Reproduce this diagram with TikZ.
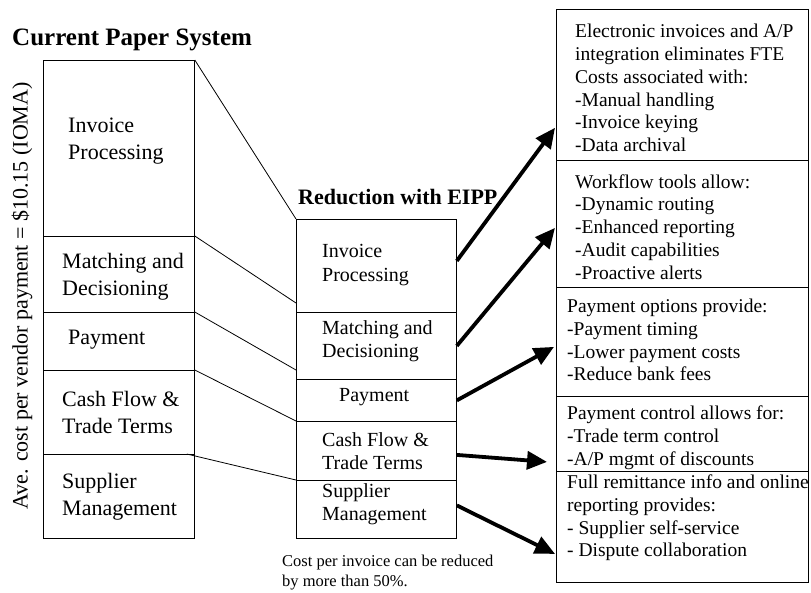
\documentclass[tikz,border=0pt]{standalone}
\usepackage{fontspec}
\setmainfont{Liberation Serif}
\usetikzlibrary{arrows.meta,positioning}
\tikzset{
  cellbox/.style = {draw=black, line width=0.8pt, rectangle, anchor=north west,
    inner sep=0pt},% empty cell of a column
  leftlbl/.style = {anchor=west, align=left, inner sep=0pt,
    font=\fontsize{22pt}{27pt}\selectfont},% text of the paper column
  midlbl/.style = {anchor=west, align=left, inner sep=0pt,
    font=\fontsize{20pt}{23.5pt}\selectfont},% text of the EIPP column
  notelbl/.style = {anchor=west, align=left, inner sep=0pt,
    font=\fontsize{19.5pt}{22.8pt}\selectfont},% text of the benefit boxes
  heading/.style = {anchor=west, inner sep=0pt, font=\bfseries},
  link/.style = {line width=0.8pt},
  bigarrow/.style = {line width=3.8pt, -{Triangle[length=20pt,width=18pt]}}
}
\begin{document}
\begin{tikzpicture}[x=1pt,y=-1pt]
\useasboundingbox (0,0) rectangle (811,592);
% current paper system
\node [cellbox, minimum width=151pt, minimum height=176pt] (lp1) at (43,60) {};
\node [cellbox, minimum width=151pt, minimum height=76pt] (lp2) at (43,236) {};
\node [cellbox, minimum width=151pt, minimum height=58pt] (lp3) at (43,312) {};
\node [cellbox, minimum width=151pt, minimum height=84pt] (lp4) at (43,370) {};
\node [cellbox, minimum width=151pt, minimum height=84pt] (lp5) at (43,454) {};
\node [leftlbl] (lt1) at (68,141) {Invoice\\Processing};
\node [leftlbl] (lt2) at (62,277) {Matching and\\Decisioning};
\node [leftlbl] (lt3) at (68,340) {Payment};
\node [leftlbl] (lt4) at (62,412) {Cash Flow \&\\Trade Terms};
\node [leftlbl] (lt5) at (62,497) {Supplier\\Management};
\node [heading, font=\bfseries\fontsize{25pt}{30pt}\selectfont] (lhead) at (12,40)
  {Current Paper System};
\node [rotate=90, inner sep=0pt, font=\fontsize{22pt}{26pt}\selectfont] (yax)
  at (22,296) {Ave. cost per vendor payment = \$10.15 (IOMA)};
% reduction with EIPP
\node [cellbox, minimum width=160pt, minimum height=93pt] (mp1) at (296,219) {};
\node [cellbox, minimum width=160pt, minimum height=67pt] (mp2) at (296,312) {};
\node [cellbox, minimum width=160pt, minimum height=42pt] (mp3) at (296,379) {};
\node [cellbox, minimum width=160pt, minimum height=59pt] (mp4) at (296,421) {};
\node [cellbox, minimum width=160pt, minimum height=58pt] (mp5) at (296,480) {};
\node [midlbl] (mt1) at (322,265) {Invoice\\Processing};
\node [midlbl] (mt2) at (322,341) {Matching and\\Decisioning};
\node [midlbl] (mt3) at (339,397) {Payment};
\node [midlbl] (mt4) at (322,451) {Cash Flow \&\\Trade Terms};
\node [midlbl] (mt5) at (322,504) {Supplier\\Management};
\node [heading, font=\bfseries\fontsize{22pt}{26pt}\selectfont] (mhead) at (298,197)
  {Reduction with EIPP};
\node [anchor=west, align=left, inner sep=0pt,
  font=\fontsize{16.5pt}{20pt}\selectfont] (note) at (282,573)
  {Cost per invoice can be reduced\\by more than 50\%.};
% benefits
\node [cellbox, minimum width=252pt, minimum height=151pt] (rb1) at (556,9) {};
\node [cellbox, minimum width=252pt, minimum height=127pt] (rb2) at (556,160) {};
\node [cellbox, minimum width=252pt, minimum height=109pt] (rb3) at (556,287) {};
\node [cellbox, minimum width=252pt, minimum height=75pt] (rb4) at (556,396) {};
\node [cellbox, minimum width=252pt, minimum height=111pt] (rb5) at (556,471) {};
\node [notelbl] (rt1) at (575,88) {Electronic invoices and A/P\\integration eliminates FTE\\
  Costs associated with:\\-Manual handling\\-Invoice keying\\-Data archival};
\node [notelbl] (rt2) at (575,227) {Workflow tools allow:\\-Dynamic routing\\
  -Enhanced reporting\\-Audit capabilities\\-Proactive alerts};
\node [notelbl] (rt3) at (567,340) {Payment options provide:\\-Payment timing\\
  -Lower payment costs\\-Reduce bank fees};
\node [notelbl] (rt4) at (567,438) {Payment control allows for:\\-Trade term control\\
  -A/P mgmt of discounts};
\node [notelbl] (rt5) at (567,518) {Full remittance info and online\\reporting provides:\\
  - Supplier self-service\\- Dispute collaboration};
% links between the columns
\draw [link] (lp1.north east) -- (mp1.north west);
\draw [link] (lp2.north east) -- ([yshift=9pt]mp2.north west);
\draw [link] (lp3.north east) -- ([yshift=9pt]mp3.north west);
\draw [link] (lp4.north east) -- (mp4.north west);
\draw [link] ([xshift=-8pt]lp5.north east) -- (mp5.north west);
% arrows to the benefits
\draw [bigarrow] ([yshift=5pt]mp1.east) -- ([xshift=-1pt,yshift=33pt]rb1.south west);
\draw [bigarrow] (mp2.east) -- ([xshift=-1pt,yshift=-4pt]rb2.west);
\draw [bigarrow] (mp3.east) -- ([xshift=-2pt,yshift=-5pt]rb3.west);
\draw [bigarrow] ([yshift=-4pt]mp4.east) -- ([xshift=-9pt,yshift=-28pt]rb4.west);
\draw [bigarrow] ([yshift=4pt]mp5.east) -- ([xshift=-1pt,yshift=-27pt]rb5.west);
\end{tikzpicture}
\end{document}
